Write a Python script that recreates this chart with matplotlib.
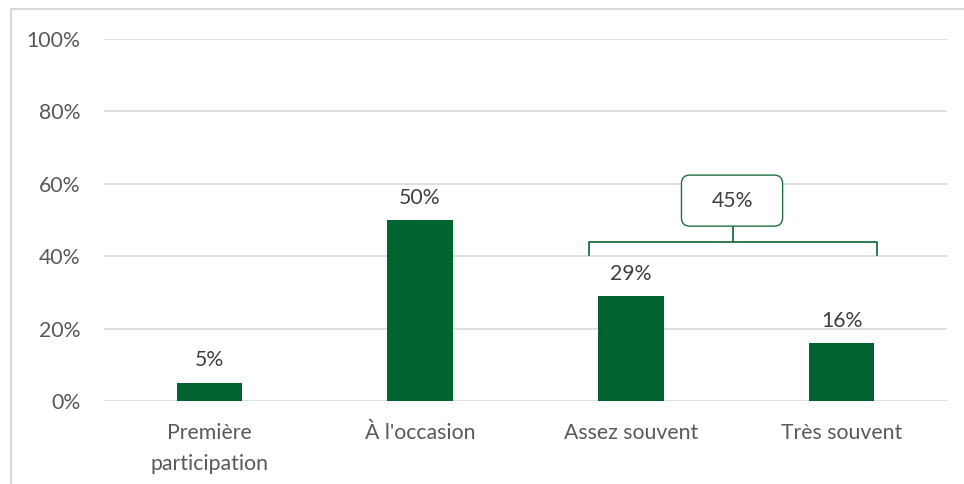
import matplotlib
matplotlib.use("Agg")
import matplotlib.pyplot as plt
from matplotlib.patches import FancyBboxPatch, Rectangle

categories = ["Première\nparticipation", "À l'occasion", "Assez souvent", "Très souvent"]
values = [5, 50, 29, 16]
labels = ["5%", "50%", "29%", "16%"]
yticks = [0, 20, 40, 60, 80, 100]
ytick_labels = ["0%", "20%", "40%", "60%", "80%", "100%"]
group_label = "45%"

plt.rcParams['font.family'] = ['Lato', 'DejaVu Sans']

W, H = 964, 484
fig = plt.figure(figsize=(W/100, H/100), dpi=100)
ax = fig.add_axes([104/W, 1-401/H, (947-104)/W, (401-39)/H])

fs = 15.3
bar_color = "#006430"
ax.bar(range(len(values)), values, width=0.31, color=bar_color, zorder=3)
for i, (v, l) in enumerate(zip(values, labels)):
    ax.annotate(l, (i, v), xytext=(0, 9), textcoords="offset points",
                ha="center", va="bottom", fontsize=fs, color="#404040")

ax.set_xlim(-0.5, 3.5)
ax.set_ylim(0, 100)
ax.set_yticks(yticks)
ax.set_yticklabels(ytick_labels)
ax.set_xticks(range(len(categories)))
ax.set_xticklabels(categories, linespacing=1.65)
ax.tick_params(axis='both', length=0, labelsize=fs, labelcolor="#595959")
ax.tick_params(axis='y', pad=17)
ax.tick_params(axis='x', pad=16)
ax.grid(axis='y', color="#d9d9d9", linewidth=1.2, zorder=0)
for s in ax.spines.values():
    s.set_visible(False)

# Bracket grouping "Assez souvent" and "Très souvent"
bc = "#1e7040"
x0, x1 = 1.80, 3.17
xm = (x0 + x1) / 2
ytop, ybot = 43.9, 40.4
ax.plot([x0, x0, x1, x1], [ybot, ytop, ytop, ybot], color=bc, lw=1.3, zorder=4,
        solid_joinstyle='round')
ax.plot([xm, xm], [ytop, 48.3], color=bc, lw=1.3, zorder=4)
box = FancyBboxPatch((2.24, 48.3), 0.48, 14.1,
                     boxstyle="round,pad=0,rounding_size=0.04",
                     mutation_aspect=58.2,
                     facecolor="white", edgecolor=bc, lw=1.0, zorder=5)
ax.add_patch(box)
ax.text(2.48, 55.3, group_label, ha="center", va="center", fontsize=fs,
        color="#404040", zorder=6)

# outer frame
fig.patches.append(Rectangle((11/W, -0.1), 1.1, 1 - 9/H + 0.1,
                             transform=fig.transFigure, fill=False,
                             edgecolor="#d9d9d9", lw=1.5))

fig.savefig("out.png", dpi=100)
